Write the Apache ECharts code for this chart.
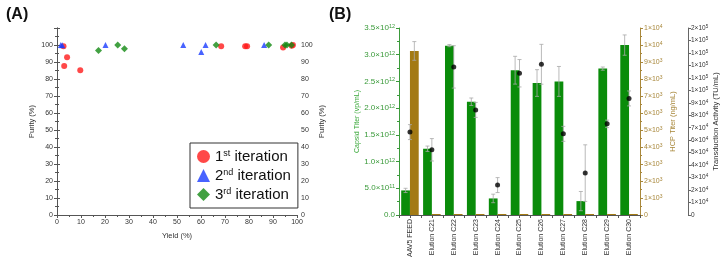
<!DOCTYPE html>
<html>
<head>
<meta charset="utf-8">
<script src="https://cdn.jsdelivr.net/npm/echarts@6/dist/echarts.min.js"></script>
<style>
  html, body { margin: 0; padding: 0; background: #fff; }
  #chart { width: 720px; height: 258px; }
</style>
</head>
<body>
<div id="chart"></div>
<script>
// (A) purity vs yield, one list per iteration
var yield1 = [2.7, 3.0, 4.2, 9.7, 68.4, 78.4, 79.2, 94.2, 97.8, 98.3];
var purity1 = [99.2, 87.7, 92.8, 85.1, 99.2, 99.2, 99.2, 98.6, 99.6, 100];
var yield2 = [1.6, 2.2, 20.2, 52.6, 60.1, 61.9, 86.3];
var purity2 = [100, 99.8, 100, 100, 95.9, 100, 100];
var yield3 = [17.3, 25.3, 28.1, 66.3, 88.2, 95.0, 95.8, 97.7];
var purity3 = [96.7, 100, 97.8, 100, 100, 100, 100, 100];

// (B) titers per fraction
var fractions = ['AAV5 FEED', 'Elution C21', 'Elution C22', 'Elution C23', 'Elution C24', 'Elution C25',
                 'Elution C26', 'Elution C27', 'Elution C28', 'Elution C29', 'Elution C30'];
var capsid = [0.46e12, 1.24e12, 3.17e12, 2.12e12, 0.31e12, 2.71e12, 2.47e12, 2.50e12, 0.26e12, 2.74e12, 3.18e12];
var capsidErr = [0.04e12, 0.05e12, 0.02e12, 0.07e12, 0.08e12, 0.26e12, 0.25e12, 0.28e12, 0.18e12, 0.03e12, 0.19e12];
var hcp = [9650, 60, 60, 60, 60, 60, 60, 60, 60, 60, 60];
var hcpErr = [550, 0, 0, 0, 0, 0, 0, 0, 0, 0, 0];
var transduction = [66500, 52300, 118800, 84300, 24000, 113700, 120900, 65100, 33600, 73100, 93500];
var transErr = [6000, 9000, 17000, 6000, 6000, 11000, 16000, 6000, 22700, 3000, 6000];

var FONT = 'Liberation Sans, Arial, sans-serif';
var GREEN = '#0a8c0a';
var BROWN = '#a37a14';
var GOLD = '#a8873a';

function pairs(xs, ys) {
    return xs.map(function (x, i) { return [x, ys[i]]; });
}

// 3.5×10^12 style labels, digits = decimals in the mantissa
function sciFmt(digits) {
    return function (v) {
        if (v === 0) return digits ? (0).toFixed(digits) : '0';
        var e = Math.floor(Math.log10(v) + 1e-9);
        var m = v / Math.pow(10, e);
        return (digits ? m.toFixed(digits) : Math.round(m)) + '×10{s|' + e + '}';
    };
}
function supRich(color, size) {
    return { s: { fontSize: size, color: color, fontFamily: FONT, verticalAlign: 'top', padding: [0, 0, 3, 0] } };
}

function errBars(offsetFrac) {
    return function (params, api) {
        var i = api.value(0), v = api.value(1), e = api.value(2);
        if (!e) return null;
        var band = api.size([1, 0])[0];
        var hi = api.coord([i, v + e]);
        var lo = api.coord([i, v - e]);
        var x = hi[0] + band * offsetFrac;
        var st = { stroke: '#a8a8a8', lineWidth: 0.8 };
        return {
            type: 'group',
            children: [
                { type: 'line', shape: { x1: x, y1: hi[1], x2: x, y2: lo[1] }, style: st },
                { type: 'line', shape: { x1: x - 2, y1: hi[1], x2: x + 2, y2: hi[1] }, style: st },
                { type: 'line', shape: { x1: x - 2, y1: lo[1], x2: x + 2, y2: lo[1] }, style: st }
            ]
        };
    };
}
function errData(vals, errs) {
    return vals.map(function (v, i) { return [i, v, errs[i]]; });
}

var axisGrey = { lineStyle: { color: '#555', width: 1 } };
var small = { fontSize: 7, color: '#333', fontFamily: FONT };

var chart = echarts.init(document.getElementById('chart'));
var option = {
    animation: false,
    backgroundColor: '#fff',
    textStyle: { fontFamily: FONT },
    title: [
        { text: '(A)', left: 1, top: 2, textStyle: { fontSize: 16, fontWeight: 'bold', color: '#111', fontFamily: FONT } },
        { text: '(B)', left: 324, top: 2, textStyle: { fontSize: 16, fontWeight: 'bold', color: '#111', fontFamily: FONT } }
    ],
    grid: [
        { left: 57, right: 423, top: 28, bottom: 43, outerBoundsMode: 'none', containLabel: false },
        { left: 399, right: 80, top: 28, bottom: 43, outerBoundsMode: 'none', containLabel: false }
    ],
    legend: {
        data: [
            { name: '1st iteration', icon: 'circle', itemStyle: { color: '#ff1a1a' } },
            { name: '2nd iteration', icon: 'triangle', itemStyle: { color: '#1a3cff' } },
            { name: '3rd iteration', icon: 'diamond', itemStyle: { color: '#138a13' } }
        ],
        orient: 'vertical',
        left: 190,
        top: 143,
        borderColor: '#333',
        borderWidth: 1,
        padding: [6, 7, 6, 7],
        itemGap: 4,
        itemWidth: 13,
        itemHeight: 13,
        formatter: function (name) {
            var parts = name.split(' ');
            var n = parts[0].slice(0, 1), sfx = parts[0].slice(1);
            return n + '{sup|' + sfx + '} ' + parts[1];
        },
        textStyle: {
            fontSize: 15, color: '#111', fontFamily: FONT,
            rich: { sup: { fontSize: 9, color: '#111', fontFamily: FONT, verticalAlign: 'top', padding: [0, 0, 6, 0] } }
        }
    },
    xAxis: [
        {
            gridIndex: 0, type: 'value', min: 0, max: 100, interval: 10,
            name: 'Yield (%)', nameLocation: 'middle', nameGap: 17,
            nameTextStyle: { fontSize: 7.5, color: '#333', fontFamily: FONT },
            axisLine: axisGrey, axisTick: { length: 3, lineStyle: { color: '#555' } },
            minorTick: { show: true, splitNumber: 2, length: 2, lineStyle: { color: '#555' } },
            axisLabel: Object.assign({ margin: 4 }, small), splitLine: { show: false }
        },
        {
            gridIndex: 0, type: 'value', position: 'top', min: 0, max: 100, interval: 10,
            axisLine: axisGrey, axisTick: { inside: true, length: 3, lineStyle: { color: '#555' } },
            minorTick: { show: true, splitNumber: 2, length: 2, lineStyle: { color: '#555' } },
            axisLabel: { show: false }, splitLine: { show: false }
        },
        {
            gridIndex: 1, type: 'category', data: fractions,
            axisLine: axisGrey, axisTick: { length: 3, lineStyle: { color: '#555' } },
            axisLabel: Object.assign({ rotate: 90, margin: 4, interval: 0 }, small)
        },
        {
            gridIndex: 1, type: 'value', position: 'top', min: 0, max: 11, interval: 1,
            axisLine: axisGrey, axisTick: { inside: true, length: 3, lineStyle: { color: '#555' } },
            minorTick: { show: true, splitNumber: 2, length: 3, lineStyle: { color: '#555' } },
            axisLabel: { show: false }, splitLine: { show: false }
        }
    ],
    yAxis: [
        {
            gridIndex: 0, type: 'value', min: 0, max: 110, interval: 10,
            name: 'Purity (%)', nameLocation: 'middle', nameGap: 21,
            nameTextStyle: { fontSize: 7.5, color: '#333', fontFamily: FONT },
            axisLine: { show: true, lineStyle: { color: '#555' } },
            axisTick: { show: true, length: 3, lineStyle: { color: '#555' } },
            minorTick: { show: true, splitNumber: 2, length: 2, lineStyle: { color: '#555' } },
            axisLabel: Object.assign({ margin: 4, formatter: function (v) { return v > 100 ? '' : v; } }, small),
            splitLine: { show: false }
        },
        {
            gridIndex: 0, type: 'value', position: 'right', min: 0, max: 110, interval: 10,
            name: 'Purity (%)', nameLocation: 'middle', nameGap: 21,
            nameTextStyle: { fontSize: 7.5, color: '#333', fontFamily: FONT },
            axisLine: { show: true, lineStyle: { color: '#555' } },
            axisTick: { show: true, length: 3, lineStyle: { color: '#555' } },
            minorTick: { show: true, splitNumber: 2, length: 2, lineStyle: { color: '#555' } },
            axisLabel: Object.assign({ margin: 4, formatter: function (v) { return v > 100 ? '' : v; } }, small),
            splitLine: { show: false }
        },
        {
            gridIndex: 1, type: 'value', min: 0, max: 3.5e12, interval: 0.5e12,
            name: 'Capsid Titer (vp/mL)', nameLocation: 'middle', nameGap: 33,
            nameTextStyle: { fontSize: 7, color: '#3aa83a', fontFamily: FONT },
            axisLine: { show: true, lineStyle: { color: '#3a9a3a' } },
            axisTick: { show: true, length: 3, lineStyle: { color: '#3a9a3a' } },
            minorTick: { show: true, splitNumber: 2, length: 2, lineStyle: { color: '#3a9a3a' } },
            axisLabel: { margin: 4, fontSize: 8, color: '#3a9a3a', fontFamily: FONT, formatter: sciFmt(1), rich: supRich('#3a9a3a', 5.5) },
            splitLine: { show: false }
        },
        {
            gridIndex: 1, type: 'value', position: 'right', min: 0, max: 11000, interval: 1000,
            name: 'HCP Titer (ng/mL)', nameLocation: 'middle', nameGap: 29,
            nameTextStyle: { fontSize: 7.5, color: GOLD, fontFamily: FONT },
            axisLine: { show: true, lineStyle: { color: GOLD } },
            axisTick: { show: true, length: 3, lineStyle: { color: GOLD } },
            minorTick: { show: true, splitNumber: 2, length: 2, lineStyle: { color: GOLD } },
            axisLabel: { margin: 4, fontSize: 7, color: GOLD, fontFamily: FONT, formatter: sciFmt(0), rich: supRich(GOLD, 5) },
            splitLine: { show: false }
        },
        {
            gridIndex: 1, type: 'value', position: 'right', offset: 48, min: 0, max: 150000, interval: 10000,
            name: 'Transduction Activity (TU/mL)', nameLocation: 'middle', nameGap: 24, nameMoveOverlap: false,
            nameTextStyle: { fontSize: 7.5, color: '#333', fontFamily: FONT },
            axisLine: { show: true, lineStyle: { color: '#666' } },
            axisTick: { show: true, length: 3, lineStyle: { color: '#666' } },
            axisLabel: { margin: 3, fontSize: 6.5, color: '#333', fontFamily: FONT, formatter: sciFmt(0), rich: supRich('#333', 4.5) },
            splitLine: { show: false }
        }
    ],
    series: [
        { name: '1st iteration', type: 'scatter', xAxisIndex: 0, yAxisIndex: 0, symbol: 'circle', symbolSize: 6,
          itemStyle: { color: '#ff1a1a' }, data: pairs(yield1, purity1) },
        { name: '2nd iteration', type: 'scatter', xAxisIndex: 0, yAxisIndex: 0, symbol: 'triangle', symbolSize: 6,
          itemStyle: { color: '#1a3cff' }, data: pairs(yield2, purity2) },
        { name: '3rd iteration', type: 'scatter', xAxisIndex: 0, yAxisIndex: 0, symbol: 'diamond', symbolSize: 7,
          itemStyle: { color: '#138a13' }, data: pairs(yield3, purity3) },

        { name: 'Capsid', type: 'bar', xAxisIndex: 2, yAxisIndex: 2, barWidth: '40%', barGap: '0%', z: 2,
          itemStyle: { color: GREEN }, data: capsid },
        { name: 'HCP', type: 'bar', xAxisIndex: 2, yAxisIndex: 3, barWidth: '40%', barGap: '0%', z: 2,
          itemStyle: { color: BROWN }, data: hcp },

        { type: 'custom', xAxisIndex: 2, yAxisIndex: 2, z: 3, renderItem: errBars(-0.2), data: errData(capsid, capsidErr) },
        { type: 'custom', xAxisIndex: 2, yAxisIndex: 3, z: 3, renderItem: errBars(0.2), data: errData(hcp, hcpErr) },
        { type: 'custom', xAxisIndex: 2, yAxisIndex: 4, z: 3, renderItem: errBars(0), data: errData(transduction, transErr) },

        { name: 'Transduction', type: 'scatter', xAxisIndex: 2, yAxisIndex: 4, symbol: 'circle', symbolSize: 5, z: 4,
          itemStyle: { color: '#000' }, data: transduction }
    ]
};
chart.setOption(option);
</script>
</body>
</html>
